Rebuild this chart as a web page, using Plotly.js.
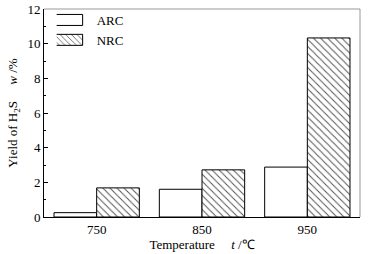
<!DOCTYPE html>
<html>
<head>
<meta charset="utf-8">
<script src="https://cdn.plot.ly/plotly-3.0.1.min.js"></script>
<style>html,body{margin:0;padding:0;background:#fff;}#chart{width:372px;height:254px;}</style>
</head>
<body>
<div id="chart"></div>
<script>
const categories = ['750', '850', '950'];
const arcValues = [0.25, 1.6, 2.88];
const nrcValues = [1.68, 2.72, 10.33];
const seriesNames = ['ARC', 'NRC'];

const FAM = 'Liberation Serif, Times New Roman, serif';
const mkFont = (s) => ({family: FAM, size: s, color: '#000'});

const traces = [
  {
    type: 'bar', name: seriesNames[0], x: categories, y: arcValues,
    marker: {color: '#fff', line: {color: '#000', width: 1}}
  },
  {
    type: 'bar', name: seriesNames[1], x: categories, y: nrcValues,
    marker: {color: '#fff', line: {color: '#000', width: 1},
      pattern: {shape: '\\', size: 5, solidity: 0.2, fgcolor: '#555', bgcolor: '#fff'}}
  }
];

const layout = {
  width: 372, height: 254,
  margin: {l: 44, r: 12, t: 9, b: 37},
  paper_bgcolor: '#fff', plot_bgcolor: '#fff',
  font: mkFont(13),
  barmode: 'group', bargap: 0.19, bargroupgap: 0,
  showlegend: true,
  legend: {x: 0.04, y: 1.0, xanchor: 'left', yanchor: 'top', bgcolor: 'rgba(0,0,0,0)',
    font: mkFont(13), itemwidth: 30},
  xaxis: {
    type: 'category', range: [-0.5, 2.5],
    showline: true, linecolor: '#000', linewidth: 1, ticks: '', showgrid: false,
    tickfont: mkFont(13), zeroline: false,
    title: {text: 'Temperature\u00a0\u00a0\u00a0\u00a0\u00a0<i>t</i> /\u2103', font: mkFont(13), standoff: 4}
  },
  yaxis: {
    range: [0, 12], dtick: 2, showline: true, linecolor: '#000', linewidth: 1,
    ticks: 'inside', ticklen: 4, tickcolor: '#000', showgrid: false, zeroline: false,
    tickfont: mkFont(13),
    minor: {ticks: 'inside', dtick: 1, ticklen: 2, tickcolor: '#000', showgrid: false},
    title: {text: 'Yield of H<sub>2</sub>S\u00a0\u00a0\u00a0\u00a0\u00a0<i>w</i> /%', font: mkFont(13), standoff: 6}
  },
  shapes: [
    {type: 'line', xref: 'paper', yref: 'paper', x0: 0, x1: 1, y0: 1, y1: 1, line: {color: '#999', width: 1}},
    {type: 'line', xref: 'paper', yref: 'paper', x0: 1, x1: 1, y0: 0, y1: 1, line: {color: '#999', width: 1}}
  ]
};

function styleLegend(gd) {
  // wide rectangular swatches like the reference
  gd.querySelectorAll('.legend .legendpoints path').forEach(function (p) {
    p.setAttribute('d', 'M6,5.5H-23V-5.5H6Z');
  });
  // nudge the legend block up a little (kept inside the plot so margins are unchanged)
  const lg = gd.querySelector('g.legend');
  if (lg && !lg.dataset.nudged) {
    const t = lg.getAttribute('transform') || '';
    const m = t.match(/translate\(\s*([-\d.]+)[ ,]+([-\d.]+)\s*\)/);
    if (m) {
      lg.setAttribute('transform', 'translate(' + m[1] + ',' + (parseFloat(m[2]) - 4) + ')');
      lg.dataset.nudged = '1';
    }
  }
}

const gdEl = document.getElementById('chart');
Plotly.newPlot(gdEl, traces, layout, {staticPlot: true, displayModeBar: false});
styleLegend(gdEl);
</script>
</body>
</html>
